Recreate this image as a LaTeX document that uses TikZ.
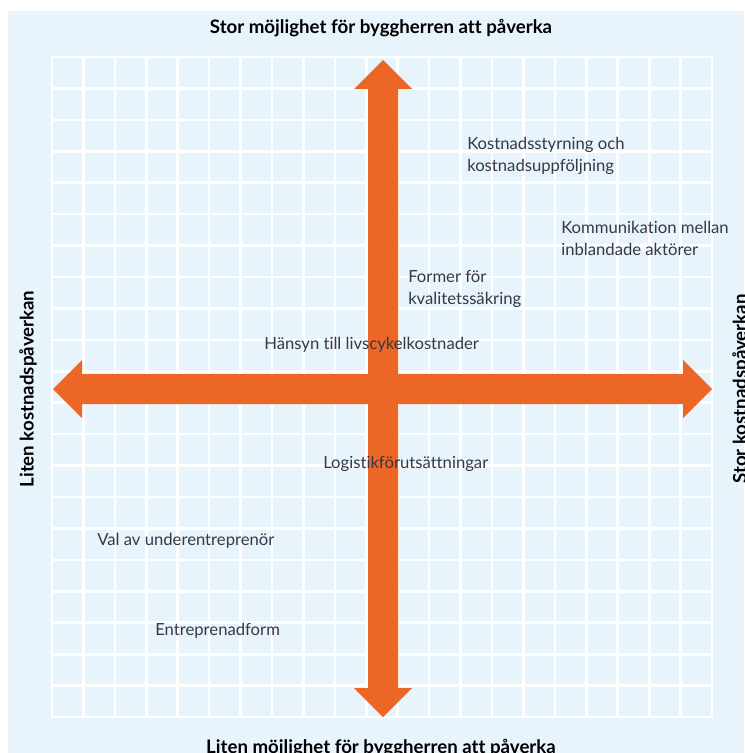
\documentclass[tikz,border=0pt]{standalone}
\usepackage{fontspec}
\setmainfont{Lato}[Ligatures=NoCommon]
\definecolor{bakgrund}{HTML}{E8F4FC}
\definecolor{pilorange}{HTML}{EC6726}
\definecolor{textgra}{HTML}{383846}

\begin{document}
\begin{tikzpicture}[line cap=round,line join=round,x=0.75pt,y=-0.75pt,
		rutnat/.style={line width=2pt,white,line cap=rect},
		pil/.style={fill=pilorange,draw=none},
		etikett/.style={text=textgra,font=\fontsize{12.5}{16.5}\selectfont,align=left,anchor=west,inner sep=0pt},
		rubrik/.style={text=black,font=\bfseries\fontsize{14}{16}\selectfont,inner sep=0pt}]
			\useasboundingbox (0,0) rectangle (744,753);
			\fill [bakgrund] (8,11) rectangle (744,753);
			% rutnat 21 x 21
			\foreach \i in {0,...,21} {
				\draw [rutnat] (52+\i*31.43,57)-- (52+\i*31.43,717);
				\draw [rutnat] (52,57+\i*31.43)-- (712,57+\i*31.43);
			}
			% korset
			\fill [pil] (383,60)-- (412,89)-- (398,89)-- (398,688)-- (412,688)-- (383,717)-- (354,688)-- (368,688)-- (368,89)-- (354,89)-- cycle;
			\fill [pil] (53,389)-- (82,360)-- (82,374)-- (683,374)-- (683,360)-- (712,389)-- (683,418)-- (683,404)-- (82,404)-- (82,418)-- cycle;
			% axlar
			\node [rubrik] (stor) at (381,28) {Stor möjlighet för byggherren att påverka};
			\node [rubrik] (liten) at (381,748) {Liten möjlighet för byggherren att påverka};
			\node [rubrik,rotate=90] (litenkostnad) at (28,389) {Liten kostnadspåverkan};
			\node [rubrik,rotate=90] (storkostnad) at (741,389) {Stor kostnadspåverkan};
			% faktorer
			\node [etikett] (styrning) at (467,156) {Kostnadsstyrning och\\kostnadsuppföljning};
			\node [etikett] (kommunikation) at (561,238) {Kommunikation mellan\\inblandade aktörer};
			\node [etikett] (former) at (408,289) {Former för\\kvalitetssäkring};
			\node [etikett] (hansyn) at (264,345) {Hänsyn till livscykelkostnader};
			\node [etikett] (logistik) at (323,464) {Logistikförutsättningar};
			\node [etikett] (val) at (97,541) {Val av underentreprenör};
			\node [etikett] (entreprenad) at (155,631) {Entreprenadform};
		\end{tikzpicture}
\end{document}
